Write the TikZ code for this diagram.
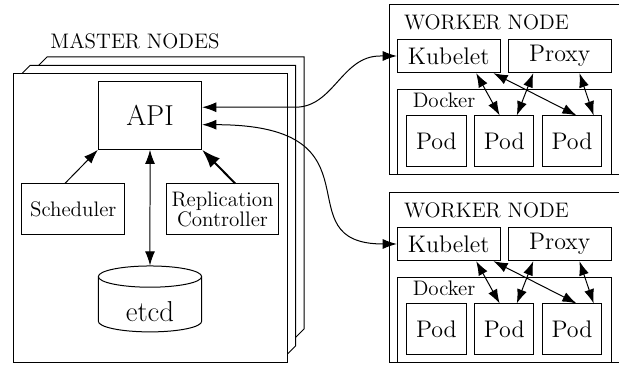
\documentclass[tikz,border=0pt]{standalone}
\usetikzlibrary{arrows.meta,shapes.geometric}

\begin{document}
\begin{tikzpicture}[x=0.6pt,y=-0.6pt,semithick,
  box/.style={draw,fill=white,inner sep=0pt},
  midtext/.style={font=\fontsize{12.6pt}{14pt}\selectfont},
  link/.style={<->,>={Latex[length=8.5pt,width=6pt]}},
  push/.style={->,>={Latex[length=8.5pt,width=6pt]}}]

% Fix the page size
\useasboundingbox (0,0) rectangle (619,366);
\clip (0,0) rectangle (619,366);

% Draw the stacked master nodes, back to front
\foreach \k in {2,1}{
  \pgfmathsetmacro{\d}{8.5*\k}
  \filldraw[fill=white] (13+\d,74) -- (13+2*\d,74-\d) -- (287+\d,74-\d) -- (287+\d,363-2*\d) -- (287,363-\d) -- (13+\d,363-\d) -- cycle;
}
\filldraw[fill=white] (13,74) rectangle (287,363);
\node[midtext] (mastertitle) at (135,41) {MASTER NODES};

% Draw the master components
\node[box,font=\LARGE,minimum width=62pt,minimum height=40.6pt] (api) at (150,115.5) {API};
\node[box,midtext,minimum width=62pt,minimum height=30.6pt] (sched) at (73.3,209.5) {Scheduler};
\node[box,midtext,align=center,minimum width=67pt,minimum height=30.6pt] (repl) at (222.5,209.5) {Replication\\[-1.5pt]Controller};
\node[draw,fill=white,cylinder,shape border rotate=90,aspect=0.44,font=\LARGE,text height=20pt,minimum width=62pt,minimum height=34.8pt,inner sep=0pt] (etcd) at (150,304.5) {etcd};

% Draw the master arrows
\draw[push] (sched.108) -- (api.south west);
\draw[push,very thick,>={Latex[length=11pt,width=8pt]}] (repl.64) -- (api.south east);
\draw[link] (api.south) -- (etcd.north);

% Draw the worker nodes
\foreach \n/\dy in {1/0,2/188}{
  \draw (630,5+\dy) -- (389,5+\dy) -- (389,175+\dy) -- (630,175+\dy);
  \node[midtext,anchor=base west] (wtitle\n) at (398,30+\dy) {WORKER NODE};
  \node[box,font=\Large,minimum width=61.6pt,minimum height=20pt] (kub\n) at (448.7,56+\dy) {Kubelet};
  \node[box,font=\Large,minimum width=61.6pt,minimum height=20pt] (prx\n) at (559.7,56+\dy) {Proxy};
  \node[box,minimum width=128.2pt,minimum height=51pt] (dock\n) at (504.2,132.5+\dy) {};
  \node[midtext,anchor=base west] (docktitle\n) at (406.7,108+\dy) {Docker};
  \foreach \p/\x in {a/436.4,b/504.2,c/572}
    \node[box,font=\Large,minimum width=35.6pt,minimum height=30.4pt] (pod\p\n) at (\x,141.3+\dy) {Pod};
  \draw[link] (kub\n.-32) -- (podb\n.100);
  \draw[link] (kub\n.-21) -- (podc\n.80);
  \draw[link] (prx\n.-147) -- (podb\n.64);
  \draw[link] (prx\n.-41) -- (podc\n.50);
}

% Draw the links from the API to the kubelets
\draw[link] (api.9) -- ++(93,0) to[out=0,in=180] ([xshift=-10pt]kub1.west) -- (kub1.west);
\draw[link] (api.-10) .. controls +(187,0) and +(-117,0) .. (kub2.west);

\end{tikzpicture}
\end{document}
